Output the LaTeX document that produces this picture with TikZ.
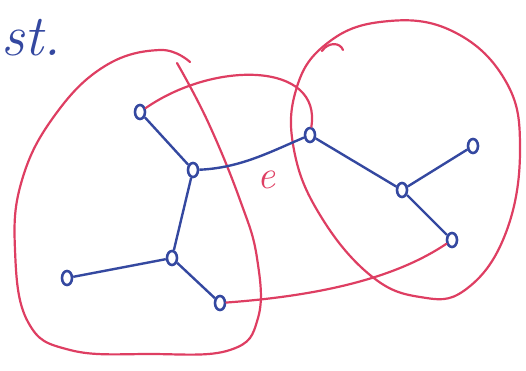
\documentclass[tikz,border=0pt]{standalone}
\usepackage{tikz}
\usetikzlibrary{shapes.geometric}

\definecolor{penblue}{RGB}{52,72,160}
\definecolor{penred}{RGB}{222,62,98}

\tikzset{
  vtx/.style={draw=penblue,ellipse,line width=2.6pt,fill=white,inner sep=0pt,minimum width=10pt,minimum height=14pt},
  tree/.style={penblue,line width=2.4pt},
  cut/.style={penred,line width=2.2pt,line cap=round},
}

\begin{document}
\begin{tikzpicture}[x=1pt,y=-1pt]
\useasboundingbox (0,0) rectangle (526,371);

\node[penblue,font=\fontsize{58}{58}\selectfont\itshape,anchor=west,inner sep=0pt] (title) at (1,38) {st.};

% the two cuts
\draw[cut] plot[smooth,tension=0.7] coordinates {(190,62) (160,50) (105,66) (55,115) (22,180) (15,250) (28,322) (70,350) (150,354) (230,350) (258,318) (257,258) (240,200) (208,122) (177,63)};
\draw[cut] plot[smooth cycle,tension=0.7] coordinates {(325,45) (380,22) (450,30) (505,80) (520,150) (505,235) (465,290) (420,297) (370,275) (320,215) (294,150) (296,90)};
\draw[cut] (322,51) .. controls (328,42) and (340,42) .. (343,50);

% vertices
\node[vtx] (A) at (140,112) {};
\node[vtx] (B) at (193,170) {};
\node[vtx] (C) at (310,135) {};
\node[vtx] (D) at (402,190) {};
\node[vtx] (F) at (473,146) {};
\node[vtx] (G) at (452,240) {};
\node[vtx] (H) at (172,258) {};
\node[vtx] (I) at (67,278) {};
\node[vtx] (J) at (220,303) {};

% tree edges
\foreach \a/\b in {A/B,B/H,H/I,H/J,C/D,D/F,D/G}{
  \draw[tree] (\a) -- (\b);
}
\draw[tree] (B) .. controls (240,168) and (270,152) .. (C);

% red edges
\draw[cut] (A) .. controls (215,60) and (322,62) .. (C);
\draw[cut] (J) .. controls (330,295) and (400,275) .. (G);

\node[penred,font=\fontsize{40}{40}\selectfont\itshape] (e) at (266,180) {e};

\end{tikzpicture}
\end{document}
